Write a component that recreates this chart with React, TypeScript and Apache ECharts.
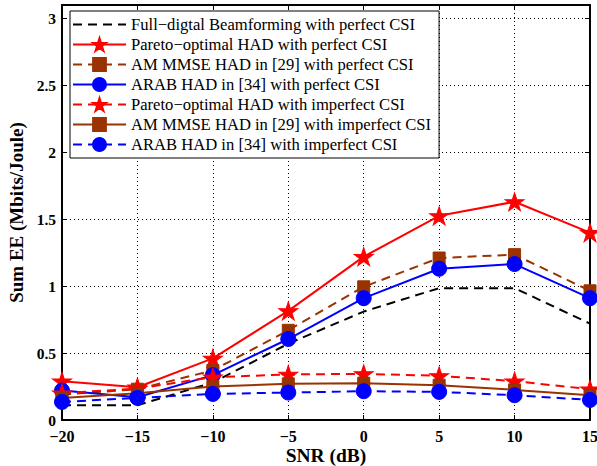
import React, { useEffect, useRef } from "react";
import * as echarts from "echarts";

const snr = [-20, -15, -10, -5, 0, 5, 10, 15];
const fullDigital = [0.11, 0.11, 0.28, 0.57, 0.81, 0.985, 0.985, 0.72];
const paretoPerfect = [0.29, 0.245, 0.46, 0.815, 1.22, 1.525, 1.63, 1.4];
const amPerfect = [0.19, 0.23, 0.37, 0.67, 0.995, 1.21, 1.235, 0.965];
const arabPerfect = [0.22, 0.17, 0.335, 0.605, 0.91, 1.13, 1.165, 0.91];
const paretoImperfect = [0.2, 0.235, 0.32, 0.34, 0.345, 0.33, 0.29, 0.23];
const amImperfect = [0.165, 0.2, 0.25, 0.27, 0.275, 0.26, 0.225, 0.185];
const arabImperfect = [0.135, 0.165, 0.195, 0.205, 0.215, 0.21, 0.185, 0.15];

const names = [
  "Full\u2212digtal Beamforming with perfect CSI",
  "Pareto\u2212optimal HAD with perfect CSI",
  "AM MMSE HAD in [29] with perfect CSI",
  "ARAB HAD in [34] with perfect CSI",
  "Pareto\u2212optimal HAD with imperfect CSI",
  "AM MMSE HAD in [29] with imperfect CSI",
  "ARAB HAD in [34] with imperfect CSI",
];

const STAR =
  "path://M0,-100L22.45,-30.9L95.1,-30.9L36.3,11.8L58.8,80.9L0,38.2L-58.8,80.9L-36.3,11.8L-95.1,-30.9L-22.45,-30.9Z";
const FONT = "Liberation Serif";
const DASH = [9, 6];

function pairs(v: number[]) {
  return snr.map((x, i) => [x, v[i]]);
}

export default function App() {
  const ref = useRef<HTMLDivElement>(null);
  useEffect(() => {
    if (!ref.current) return;
    const chart = echarts.init(ref.current, undefined, { renderer: "svg" });
    const mk = (
      name: string,
      data: number[],
      color: string,
      dashed: boolean,
      symbol: string,
      size: number | number[]
    ) => ({
      type: "line",
      name,
      data: pairs(data),
      xAxisIndex: 0,
      yAxisIndex: 0,
      symbol,
      symbolSize: size,
      showAllSymbol: true,
      itemStyle: { color, borderColor: color, borderWidth: 1 },
      lineStyle: { color, width: 2, type: dashed ? DASH : "solid" },
      emphasis: { disabled: true },
    });
    const brown = "#993300";
    chart.setOption({
      animation: false,
      textStyle: { fontFamily: FONT },
      grid: { left: 62, right: 7, top: 5, bottom: 46, outerBoundsMode: "none", containLabel: false },
      legend: {
        left: 70,
        top: 11,
        orient: "vertical",
        padding: [5, 8, 5, 2],
        itemWidth: 53,
        itemHeight: 16,
        itemGap: 3,
        borderColor: "#000",
        borderWidth: 1,
        backgroundColor: "#fff",
        textStyle: { fontFamily: FONT, fontSize: 16.6, color: "#000" },
        selectedMode: false,
        data: names,
      },
      xAxis: [
        {
          type: "value",
          min: -20,
          max: 15,
          interval: 5,
          position: "bottom",
          name: "SNR (dB)",
          nameLocation: "middle",
          nameGap: 25,
          nameMoveOverlap: false,
          nameTextStyle: { fontFamily: FONT, fontSize: 19.5, fontWeight: "bold", color: "#000" },
          axisLine: { show: true, onZero: false, lineStyle: { color: "#000", width: 2 } },
          axisTick: { show: true, inside: true, length: 5, lineStyle: { color: "#000", width: 1 } },
          axisLabel: {
            fontFamily: FONT,
            fontSize: 16,
            fontWeight: "bold",
            color: "#000",
            margin: 8,
            formatter: (v: number) => String(v).replace("-", "\u2212"),
          },
          splitLine: { show: true, lineStyle: { color: "#000", width: 1, type: [1, 3] } },
        },
        {
          type: "value",
          min: -20,
          max: 15,
          interval: 5,
          position: "top",
          axisLine: { show: true, onZero: false, lineStyle: { color: "#000", width: 2 } },
          axisTick: { show: true, inside: true, length: 5, lineStyle: { color: "#000", width: 1 } },
          axisLabel: { show: false },
          splitLine: { show: false },
        },
      ],
      yAxis: [
        {
          type: "value",
          min: 0,
          max: 3.1,
          interval: 0.5,
          position: "left",
          name: "Sum EE (Mbits/Joule)",
          nameLocation: "middle",
          nameGap: 35,
          nameTextStyle: { fontFamily: FONT, fontSize: 19, fontWeight: "bold", color: "#000" },
          axisLine: { show: true, onZero: false, lineStyle: { color: "#000", width: 2 } },
          axisTick: { show: true, inside: true, length: 5, lineStyle: { color: "#000", width: 1 } },
          axisLabel: {
            fontFamily: FONT,
            fontSize: 15.5,
            fontWeight: "bold",
            color: "#000",
            margin: 6,
            showMaxLabel: false,
          },
          splitLine: { show: true, lineStyle: { color: "#000", width: 1, type: [1, 3] } },
        },
        {
          type: "value",
          min: 0,
          max: 3.1,
          interval: 0.5,
          position: "right",
          axisLine: { show: true, onZero: false, lineStyle: { color: "#000", width: 2 } },
          axisTick: { show: true, inside: true, length: 5, lineStyle: { color: "#000", width: 1 } },
          axisLabel: { show: false },
          splitLine: { show: false },
        },
      ],
      series: [
        {
          type: "line",
          name: names[0],
          data: pairs(fullDigital),
          symbol: "none",
          itemStyle: { color: "rgba(0,0,0,0)" },
          lineStyle: { color: "#000", width: 2, type: DASH },
          emphasis: { disabled: true },
        },
        mk(names[1], paretoPerfect, "#ff0000", false, STAR, [19, 18]),
        mk(names[2], amPerfect, brown, true, "rect", 12),
        mk(names[3], arabPerfect, "#0000ff", false, "circle", 15),
        mk(names[4], paretoImperfect, "#ff0000", true, STAR, [19, 18]),
        mk(names[5], amImperfect, brown, false, "rect", 12),
        mk(names[6], arabImperfect, "#0000ff", true, "circle", 15),
      ],
    });
    return () => chart.dispose();
  }, []);
  return (
    <div
      ref={ref}
      style={{ position: "fixed", left: 0, top: 0, width: 597, height: 466, background: "#fff" }}
    />
  );
}
